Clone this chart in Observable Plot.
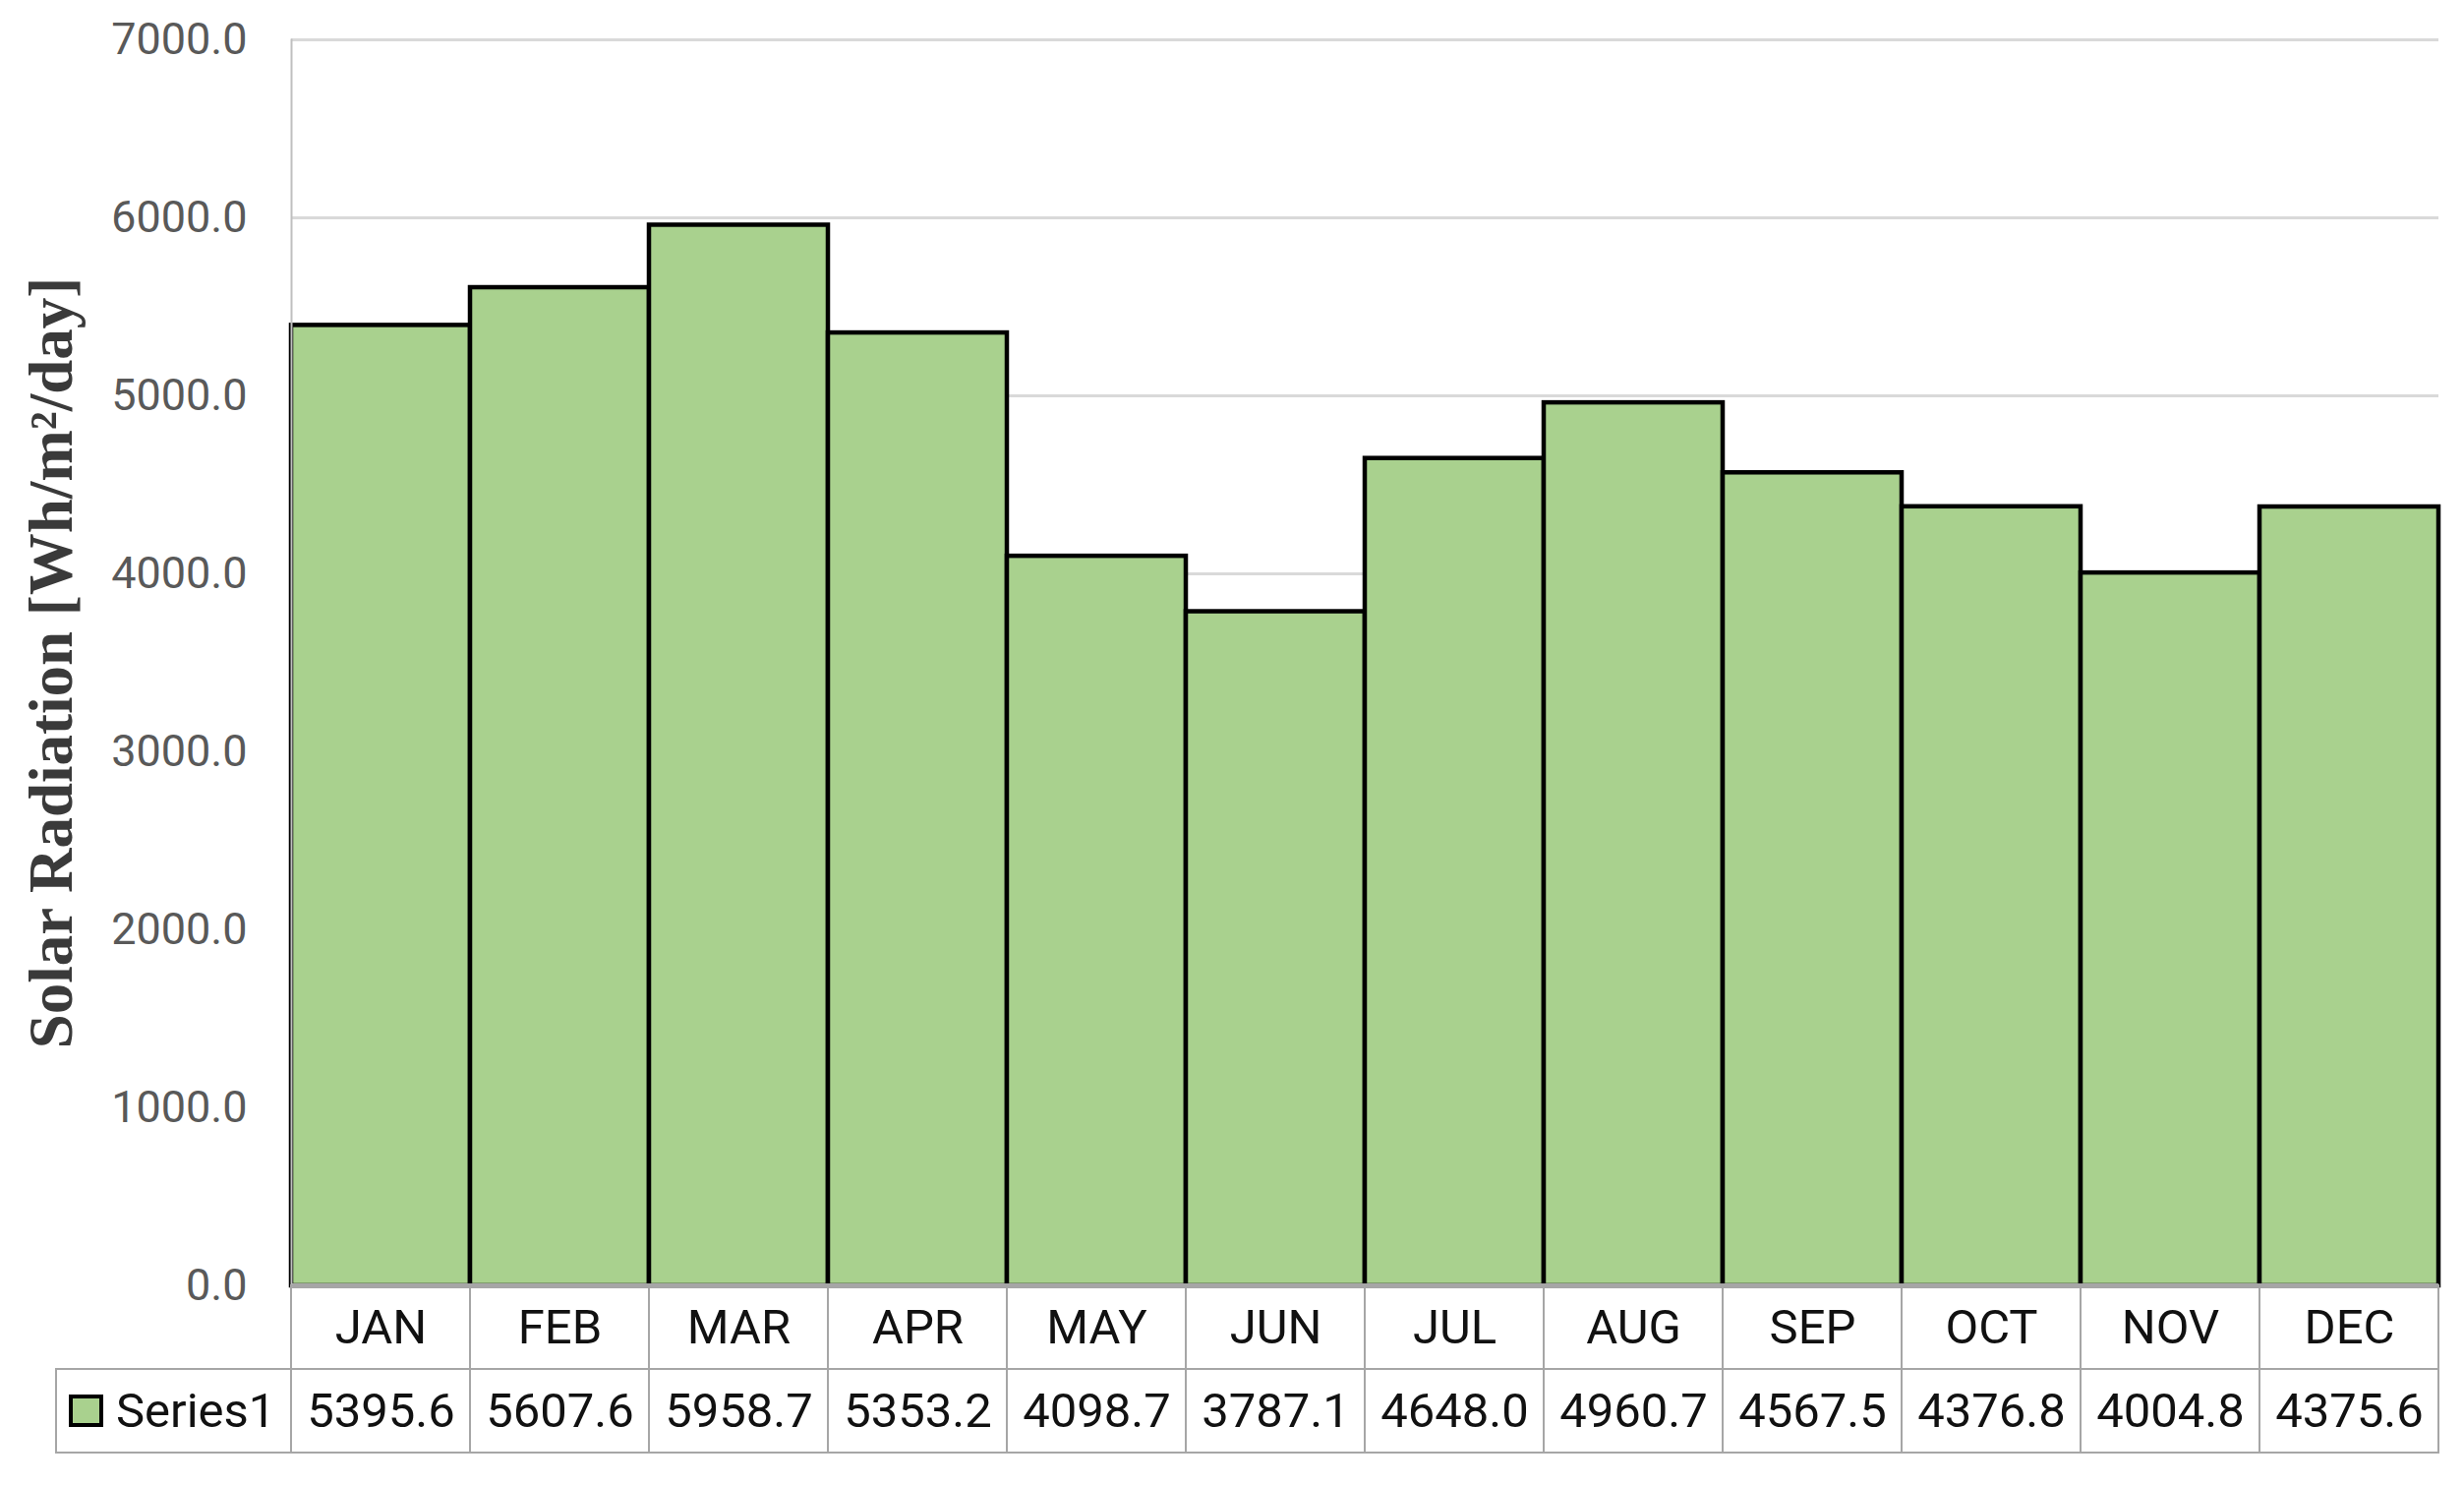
<!DOCTYPE html>
<html>
<head>
<meta charset="utf-8">
<script src="https://cdn.jsdelivr.net/npm/d3@7"></script>
<script src="https://cdn.jsdelivr.net/npm/@observablehq/plot@0.6"></script>
<style>
  html, body { margin: 0; padding: 0; background: #fff; }
  #wrap { position: relative; width: 2506px; height: 1510px; background: #fff; overflow: hidden; }
  #chart { position: absolute; left: 0; top: 0; }
  #table { position: absolute; left: 0; top: 1305px; }
  #legend {
    position: absolute; left: 56px; top: 1391px; width: 242px; height: 87px;
    box-sizing: border-box; border: 2px solid #a6a6a6; border-right: none;
    display: flex; align-items: center; font-family: Roboto, sans-serif; font-size: 49px; color: #111;
  }
  #legend .sw { width: 35px; height: 33px; box-sizing: border-box; border: 4px solid #000; background: #A9D18E; margin-left: 12px; margin-right: 13px; }
</style>
</head>
<body>
<div id="wrap">
  <div id="chart"></div>
  <div id="table"></div>
  <div id="legend"><span class="sw"></span><span id="legendText"></span></div>
</div>
<script>
const months = ["JAN", "FEB", "MAR", "APR", "MAY", "JUN", "JUL", "AUG", "SEP", "OCT", "NOV", "DEC"];
const values = [5395.6, 5607.6, 5958.7, 5353.2, 4098.7, 3787.1, 4648.0, 4960.7, 4567.5, 4376.8, 4004.8, 4375.6];
const yTicks = [0, 1000, 2000, 3000, 4000, 5000, 6000, 7000];
const seriesName = "Series1";
const yLabel = "Solar Radiation [Wh/m²/day]";

const data = months.map((m, i) => ({month: m, value: values[i]}));
const tableRows = [
  ...months.map(m => ({month: m, row: "cat", text: m})),
  ...months.map((m, i) => ({month: m, row: "val", text: values[i].toFixed(1)}))
];

const chart = Plot.plot({
  width: 2506,
  height: 1340,
  marginTop: 40,
  marginBottom: 33,
  marginLeft: 296,
  marginRight: 26,
  style: {background: "transparent", fontFamily: "Roboto, sans-serif", overflow: "visible"},
  x: {domain: months, padding: 0, axis: null},
  y: {domain: [0, 7000]},
  marks: [
    Plot.ruleY(yTicks.slice(1), {stroke: "#d9d9d9", strokeWidth: 3}),
    Plot.barY(data, {x: "month", y: "value", fill: "#A9D18E", stroke: "#000", strokeWidth: 4.5}),
    Plot.ruleY([0], {stroke: "#a6a6a6", strokeWidth: 5}),
    Plot.frame({anchor: "left", stroke: "#bfbfbf", strokeWidth: 2}),
    Plot.axisY(yTicks, {tickSize: 0, tickPadding: 45, tickFormat: d => d.toFixed(1), fontSize: 45, fill: "#595959", label: null}),
    Plot.axisY([], {label: yLabel, labelAnchor: "center", labelOffset: 268, labelArrow: "none",
      fontSize: 63, fontFamily: "Liberation Serif, serif", fontWeight: "bold", fill: "#3a3a3a"})
  ]
});
document.getElementById("chart").appendChild(chart);

const table = Plot.plot({
  width: 2506,
  height: 175,
  marginTop: 2,
  marginBottom: 3,
  marginLeft: 296,
  marginRight: 26,
  style: {background: "transparent", fontFamily: "Roboto, sans-serif", overflow: "visible"},
  x: {domain: months, padding: 0, axis: null},
  y: {domain: ["cat", "val"], padding: 0, axis: null},
  marks: [
    Plot.cell(tableRows, {x: "month", y: "row", fill: "none", stroke: "#a6a6a6", strokeWidth: 2}),
    Plot.text(tableRows, {x: "month", y: "row", text: "text", fontSize: 49, fill: "#111"})
  ]
});
document.getElementById("table").appendChild(table);
document.getElementById("legendText").textContent = seriesName;
</script>
</body>
</html>
